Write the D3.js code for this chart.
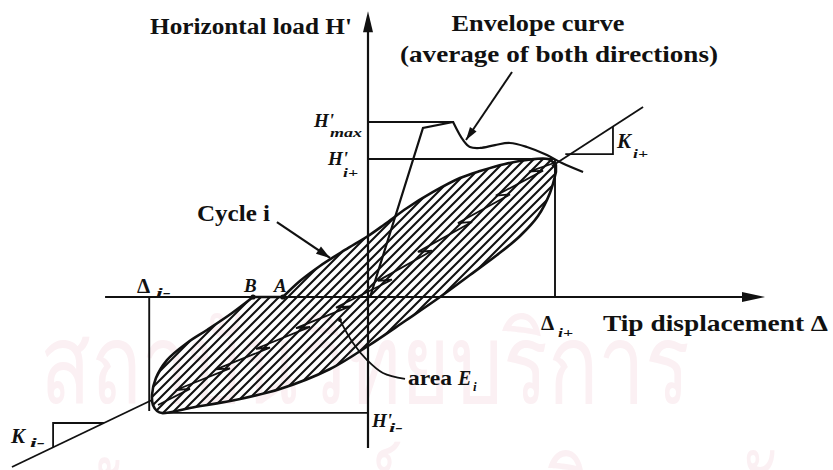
<!DOCTYPE html>
<html>
<head>
<meta charset="utf-8">
<script src="https://cdn.jsdelivr.net/npm/d3@7"></script>
<style>
  html, body { margin: 0; padding: 0; background: #fff; }
  svg { display: block; }
  text { font-family: "Liberation Serif", "DejaVu Serif", serif; font-weight: bold; fill: #111; }
  .it { font-style: italic; }
  .wm { font-family: sans-serif; font-weight: normal; fill: #fbf0f3; }
</style>
</head>
<body>
<svg id="chart" width="833" height="470"></svg>
<script>
// Load–displacement hysteresis of cycle i.
// Units: displacement in % of Δi+, load in % of H'i+.

// Upper branch from the positive peak down to point A on the displacement axis
const upperToA = [
  [100.5, 95.7], [96.3, 100], [85, 99.3], [73.3, 96.4], [59.9, 91.3], [49.2, 86.2],
  [34.8, 76.1], [20.9, 64.5], [9.1, 52.9], [0, 44.2], [-12.3, 34.1], [-25.7, 22.5],
  [-36.4, 11.6], [-45.5, 0]
];
// Upper branch from point B down to the negative peak
const upperFromB = [
  [-61.5, 0], [-72.7, -11.6], [-86.1, -23.9], [-96.8, -33.3], [-107.5, -45.7],
  [-113.4, -58.7], [-115.5, -71], [-115, -78.3], [-112.8, -82.6]
];
// Lower branch, from the negative peak up to the positive peak
const cycleLower = [
  [-110.2, -84.1], [-95.2, -80.4], [-68.4, -73.9], [-47.1, -66.7], [-20.3, -52.2],
  [0, -35.5], [19.8, -17.4], [38.5, 0], [54.5, 15.9], [69, 30.4], [81.3, 44.2],
  [90.9, 58.7], [97.3, 75.4], [100.5, 90.6]
];
// Jagged centre line of the loop
const centreLine = [
  [-112.3, -78.3],
  [-95.2, -66.6], [-102.7, -67.4],
  [-73.8, -51.7], [-81.3, -52.5],
  [-52.4, -36.7], [-59.9, -37.5],
  [-31.0, -21.7], [-38.5, -22.5],
  [-9.6, -6.8], [-17.1, -7.6],
  [12.8, 12.5], [5.3, 11.7],
  [34.2, 33.5], [26.7, 32.7],
  [55.6, 54.4], [48.1, 53.6],
  [75.9, 74.3], [68.4, 73.5],
  [93.6, 91.6], [86.1, 90.8],
  [99.5, 97.1]
];
// Envelope curve (average of both directions)
const envelope = [
  [1.1, 0], [29.4, 122.5], [45.5, 126.8], [50.8, 113.8], [54.5, 108.7], [59.9, 108],
  [67.9, 110.1], [75.9, 111.6], [85, 108.7], [95.7, 102.9], [103.7, 97.1], [115, 90.6]
];

// Characteristic values
const loadMax = 126.8, loadPos = 100, loadNeg = -84;
const dispPos = 100, dispNeg = -117;
const envelopePeakDisp = 46;
const loadNegFrom = -110, dispNegDepth = -82.6;
const xAxisExtent = [-140.6, 212.3];
const yAxisExtent = [-109.4, 207];

// Stiffness lines and their slope triangles
const kPlusLine = [[98.4, 94.9], [147.1, 137.7]];
const kPlusTri = [[105.5, 103.6], [131, 103.6], [131, 123.5]];
const kMinusLine = [[-190.4, -123.2], [-115.5, -74.6]];
const kMinusTri = [[-141.2, -91.3], [-168.4, -91.3], [-168.4, -109]];

// Leader lines
const envelopeArrow = [[77, 163], [52.4, 113.8]];
const cycleArrow = [[-48.7, 54.3], [-20.3, 28.3]];
const areaLeader = [[-15, -16.7], [-8, -33.3], [-0.5, -45.7], [8, -55.1], [19.8, -59.4]];

// Points on the reloading branch
const markedPoints = [{ name: "B", p: [-61.5, 0] }, { name: "A", p: [-45.5, 0] }];

const svg = d3.select("#chart");
const x = d3.scaleLinear().domain([0, 100]).range([368, 555]);
const y = d3.scaleLinear().domain([0, 100]).range([297, 159]);
const ink = "#111";

// faint institutional watermark in the background
const wm = svg.append("g");
wm.append("text").attr("class", "wm").attr("x", 40).attr("y", 403)
  .attr("font-size", 112).attr("textLength", 650).attr("lengthAdjust", "spacingAndGlyphs")
  .text("สถาบันวิทยบริการ");
wm.append("text").attr("class", "wm").attr("x", 20).attr("y", 540)
  .attr("font-size", 112).attr("textLength", 800).attr("lengthAdjust", "spacingAndGlyphs")
  .text("จุฬาลงกรณ์มหาวิทยาลัย");

// hatch pattern for the dissipated energy area
const defs = svg.append("defs");
const pat = defs.append("pattern").attr("id", "hatch").attr("patternUnits", "userSpaceOnUse")
  .attr("width", 9).attr("height", 9);
pat.append("path").attr("d", "M-2,2 L2,-2 M0,9 L9,0 M7,11 L11,7")
  .attr("stroke", ink).attr("stroke-width", 2.1);

const px = d => [x(d[0]), y(d[1])];
const lineLin = d3.line().x(d => x(d[0])).y(d => y(d[1]));
const lineSmooth = d3.line().x(d => x(d[0])).y(d => y(d[1])).curve(d3.curveCatmullRom.alpha(0.5));

function seg(a, b, w) {
  svg.append("path").attr("d", lineLin([a, b])).attr("fill", "none")
    .attr("stroke", ink).attr("stroke-width", w).attr("stroke-linecap", "butt");
}
function head(fromD, tipD, len, half) {
  const [fx, fy] = px(fromD), [tx, ty] = px(tipD);
  const dx = tx - fx, dy = ty - fy, L = Math.hypot(dx, dy);
  const ux = dx / L, uy = dy / L;
  const bx = tx - ux * len, by = ty - uy * len;
  svg.append("polygon")
    .attr("points", [[tx, ty], [bx - uy * half, by + ux * half], [bx + uy * half, by - ux * half]].join(" "))
    .attr("fill", ink);
}

// hysteresis loop: smooth branches joined by the straight A–B stretch on the axis
const loopD = lineSmooth(upperToA) +
  lineSmooth(upperFromB.concat(cycleLower)).replace(/^M/, "L") + "Z";
svg.append("path").attr("d", loopD).attr("fill", "url(#hatch)")
  .attr("stroke", ink).attr("stroke-width", 2.6).attr("stroke-linejoin", "round");
svg.append("path").attr("d", lineLin(centreLine)).attr("fill", "none")
  .attr("stroke", ink).attr("stroke-width", 1.8).attr("stroke-linejoin", "miter");

// axes
seg([xAxisExtent[0], 0], [xAxisExtent[1] - 8, 0], 2.2);
head([xAxisExtent[0], 0], [xAxisExtent[1], 0], 23, 5);
seg([0, yAxisExtent[0]], [0, yAxisExtent[1] - 8], 2.2);
head([0, yAxisExtent[0]], [0, yAxisExtent[1]], 21, 5);

// characteristic value lines
seg([0, loadMax], [envelopePeakDisp, loadMax], 1.9);
seg([0, loadPos], [dispPos, loadPos], 1.9);
seg([dispPos, 0], [dispPos, loadPos], 1.9);
seg([dispNeg, 0], [dispNeg, dispNegDepth], 1.9);
seg([loadNegFrom, loadNeg], [0, loadNeg], 1.9);

// envelope curve: straight rise to the peak, then smooth softening
svg.append("path").attr("d", lineLin(envelope.slice(0, 3))).attr("fill", "none")
  .attr("stroke", ink).attr("stroke-width", 2.2).attr("stroke-linejoin", "miter");
svg.append("path").attr("d", lineSmooth(envelope.slice(2))).attr("fill", "none")
  .attr("stroke", ink).attr("stroke-width", 2.2);

// stiffness lines and triangles
[kPlusLine, kMinusLine].forEach(l => seg(l[0], l[1], 1.8));
[kPlusTri, kMinusTri].forEach(t => svg.append("path").attr("d", lineLin(t)).attr("fill", "none")
  .attr("stroke", ink).attr("stroke-width", 1.8));

// leader arrows
seg(envelopeArrow[0], envelopeArrow[1], 2);
head(envelopeArrow[0], envelopeArrow[1], 13, 4);
seg(cycleArrow[0], cycleArrow[1], 2.2);
head(cycleArrow[0], cycleArrow[1], 14, 4.5);
svg.append("path").attr("d", lineSmooth(areaLeader)).attr("fill", "none")
  .attr("stroke", ink).attr("stroke-width", 1.8);
svg.append("circle").attr("cx", x(areaLeader[0][0])).attr("cy", y(areaLeader[0][1])).attr("r", 2).attr("fill", ink);

// points A and B
svg.selectAll("circle.pt").data(markedPoints).join("circle").attr("class", "pt")
  .attr("cx", d => x(d.p[0])).attr("cy", d => y(d.p[1])).attr("r", 2.6).attr("fill", ink);

// text
function label(str, lx, ly, size, opts = {}) {
  const t = svg.append("text").attr("x", lx).attr("y", ly).attr("font-size", size).text(str);
  if (opts.italic) t.attr("class", "it");
  if (opts.anchor) t.attr("text-anchor", opts.anchor);
  if (opts.len) t.attr("textLength", opts.len).attr("lengthAdjust", "spacingAndGlyphs");
  return t;
}
label("Horizontal load H'", 352, 34, 24, { anchor: "end", len: 202 });
label("Envelope curve", 538, 31, 23, { anchor: "middle", len: 173 });
label("(average of both directions)", 559, 62, 23, { anchor: "middle", len: 318 });
label("Cycle i", 197, 221, 23, { len: 73 });
label("Tip displacement Δ", 603, 331, 24, { len: 225 });
label("area", 408, 385, 20, { len: 44 });
label("E", 458, 385, 20, { italic: true });
label("i", 473, 391, 13, { italic: true });

label("Δ", 137, 293, 21);
label("i-", 156, 297, 13, { italic: true, len: 15 });
label("Δ", x(dispPos) - 14, 330, 21);
label("i+", x(dispPos) + 3, 337, 13, { italic: true, len: 15 });

markedPoints.forEach(d => label(d.name, x(d.p[0]) - 9, 292, 19, { italic: true }));

label("K", 617, 148, 21, { italic: true });
label("i+", 633, 158, 13, { italic: true, len: 15 });
label("K", 11, 443, 21, { italic: true });
label("i-", 30, 447, 13, { italic: true, len: 15 });

label("H'", 314, 127, 19, { italic: true });
label("max", 330, 137, 13, { italic: true, len: 32 });
label("H'", 328, 165, 19, { italic: true });
label("i+", 343, 177, 13, { italic: true, len: 15 });
label("H'", 372, 427, 19, { italic: true });
label("i-", 389, 432, 13, { italic: true, len: 14 });
</script>
</body>
</html>
